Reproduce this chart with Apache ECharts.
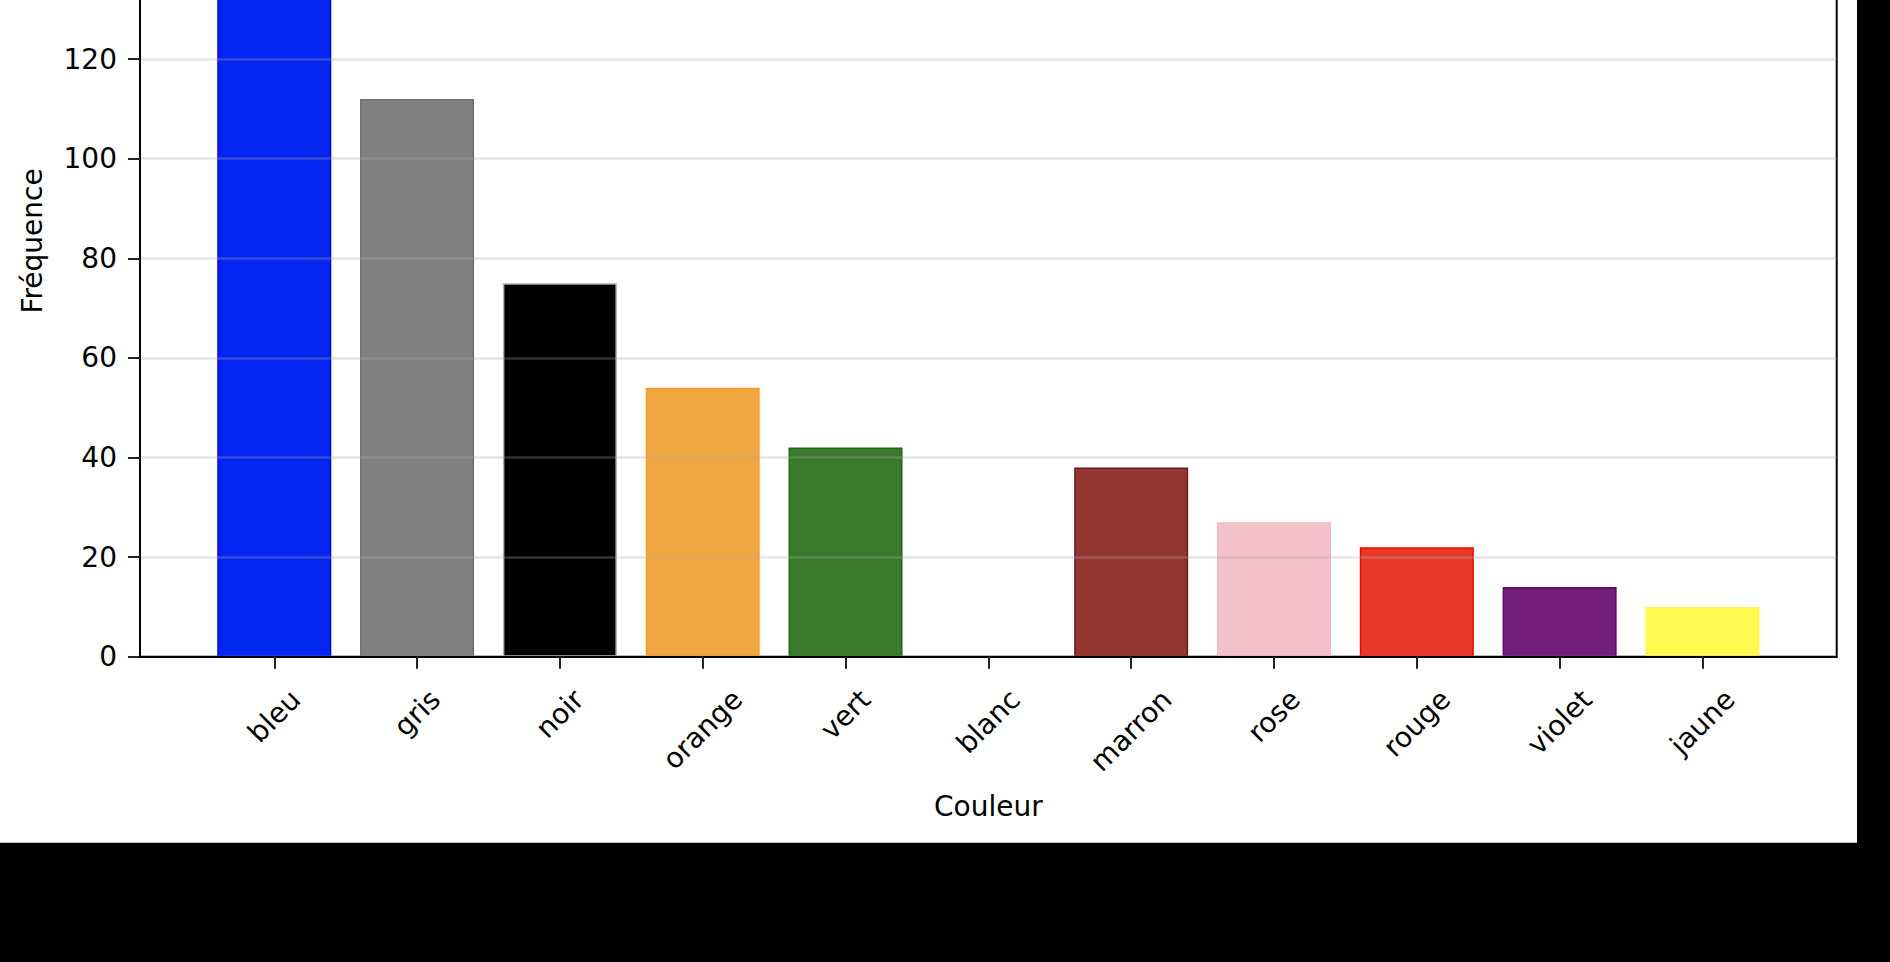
<!DOCTYPE html>
<html>
<head>
<meta charset="utf-8">
<script src="https://cdn.jsdelivr.net/npm/echarts@6/dist/echarts.min.js"></script>
<style>
  html, body { margin: 0; padding: 0; background: #000; width: 1890px; height: 962px; overflow: hidden; }
  #chart { position: absolute; left: 0; top: -200px; width: 1857px; height: 1042px; background: #fff; border-bottom: 1px solid #bdbdbd; box-sizing: content-box; }
</style>
</head>
<body>
<div id="chart"></div>
<script>
// ---- data ----
const categories = ['bleu', 'gris', 'noir', 'orange', 'vert', 'blanc', 'marron', 'rose', 'rouge', 'violet', 'jaune'];
const frequencies = [159, 112, 75, 54, 42, 0, 38, 27, 22, 14, 10];
const yTicks = [0, 20, 40, 60, 80, 100, 120];

// ---- styles ----
const fillColors = ['#0326F1', '#808080', '#000000', '#F0A640', '#3B7A2A', '#FFFFFF', '#943632', '#F4C1C9', '#E8382A', '#731F7A', '#FFFA50'];
const edgeColors = ['#0000FF', '#6E6E6E', '#B0B0B0', '#F5A020', '#1F6A12', 'rgba(0,0,0,0)', '#761616', '#F2BCC5', '#FF0000', '#5C0A68', '#FFF84A'];

const FONT = '"DejaVu Sans", "Liberation Sans", sans-serif';
const FS = 28;

// measure label widths to mimic matplotlib's centered rotated labels
const ctx = document.createElement('canvas').getContext('2d');
ctx.font = FS + 'px "DejaVu Sans"';
const rich = {};
categories.forEach((c, i) => {
  const w = ctx.measureText(c).width;
  rich['c' + i] = { fontSize: FS, fontFamily: FONT, color: '#000', padding: [w / 2, w / 2, 0, 0] };
});

const idx = categories.map((_, i) => i);
const ymax = Math.max(...frequencies) * 1.05;

const chart = echarts.init(document.getElementById('chart'), null, { renderer: 'svg' });
chart.setOption({
  animation: false,
  backgroundColor: '#fff',
  grid: {
    left: 140, right: 20.3, top: 25.2, bottom: 185.3,
    show: true, borderColor: '#000', borderWidth: 2, backgroundColor: 'transparent'
  },
  xAxis: {
    type: 'value',
    min: -0.94, max: 10.94,
    z: 4,
    name: 'Couleur',
    nameLocation: 'middle',
    nameGap: 136,
    nameTextStyle: { fontSize: FS, fontFamily: FONT, color: '#000' },
    axisLine: { show: true, onZero: false, lineStyle: { color: '#000', width: 2 } },
    axisTick: { show: true, customValues: idx, length: 12, lineStyle: { color: '#222', width: 2 } },
    axisLabel: {
      customValues: idx,
      rotate: 45,
      align: 'center',
      verticalAlign: 'middle',
      margin: 38,
      formatter: (v) => { const i = Math.round(v); return '{c' + i + '|' + categories[i] + '}'; },
      rich: rich,
      fontSize: FS, fontFamily: FONT, color: '#000'
    },
    splitLine: { show: false }
  },
  yAxis: {
    type: 'value',
    min: 0, max: ymax, interval: 20,
    z: 3,
    name: 'Fréquence',
    nameLocation: 'middle',
    nameGap: 94,
    nameTextStyle: { fontSize: FS, fontFamily: FONT, color: '#000' },
    axisLine: { show: true, onZero: false, lineStyle: { color: '#000', width: 2 } },
    axisTick: { show: true, customValues: yTicks, length: 12, lineStyle: { color: '#222', width: 2 } },
    axisLabel: {
      customValues: yTicks,
      margin: 23, fontSize: FS, fontFamily: FONT, color: '#000'
    },
    splitLine: { show: true, lineStyle: { color: 'rgba(170,170,170,0.3)', width: 2.5 } }
  },
  series: [{
    type: 'bar',
    barWidth: 114,
    data: frequencies.map((v, i) => ({
      value: [i, v],
      itemStyle: { color: fillColors[i], borderColor: edgeColors[i], borderWidth: 1.5 }
    }))
  }]
});
</script>
</body>
</html>
